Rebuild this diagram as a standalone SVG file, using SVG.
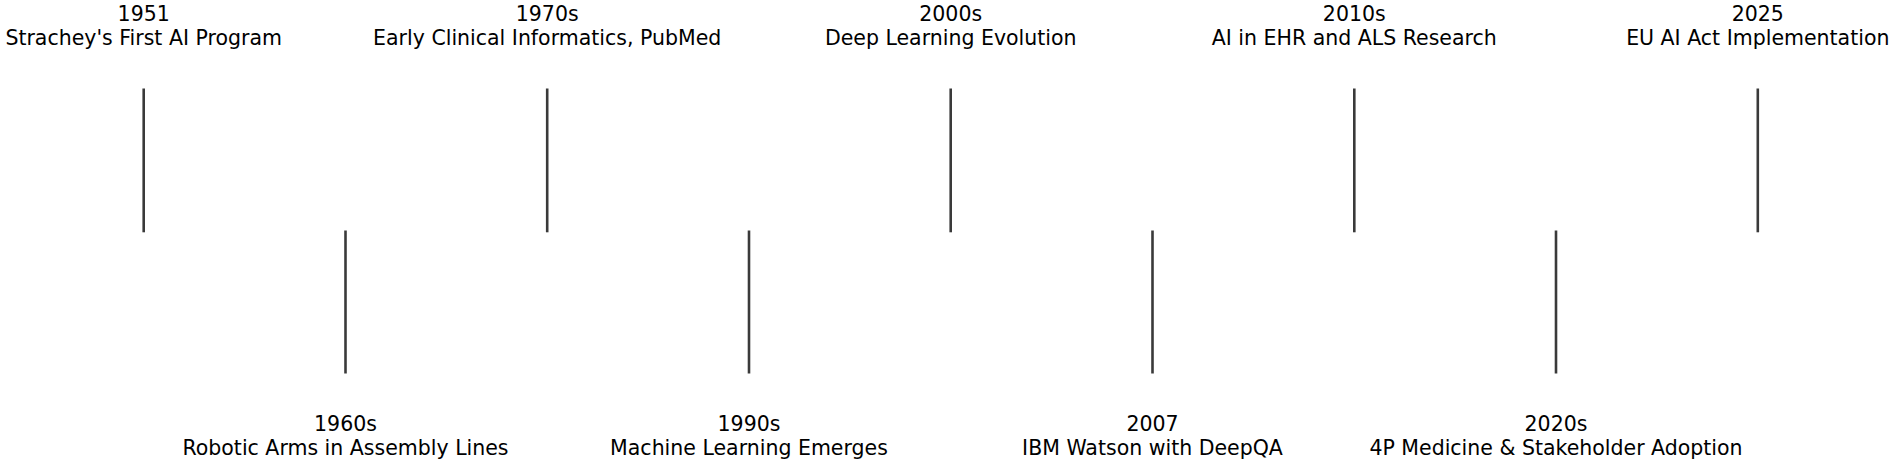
<svg xmlns="http://www.w3.org/2000/svg" width="1893" height="464" viewBox="0 0 1893 464">
<style>
.stem{stroke:#3a3a3a;stroke-width:2.6;fill:none}
text{font-family:"DejaVu Sans","Liberation Sans",sans-serif;font-size:20.5px;fill:#000;text-anchor:middle}
</style>
<rect width="1893" height="464" fill="#fff"/>
<g id="connectors">
<line class="stem" x1="143.7" y1="88.5" x2="143.7" y2="232.3"/>
<line class="stem" x1="345.5" y1="230.5" x2="345.5" y2="373.5"/>
<line class="stem" x1="547.2" y1="88.5" x2="547.2" y2="232.3"/>
<line class="stem" x1="749" y1="230.5" x2="749" y2="373.5"/>
<line class="stem" x1="950.7" y1="88.5" x2="950.7" y2="232.3"/>
<line class="stem" x1="1152.5" y1="230.5" x2="1152.5" y2="373.5"/>
<line class="stem" x1="1354.3" y1="88.5" x2="1354.3" y2="232.3"/>
<line class="stem" x1="1556" y1="230.5" x2="1556" y2="373.5"/>
<line class="stem" x1="1757.8" y1="88.5" x2="1757.8" y2="232.3"/>
</g>
<g id="e1951"><text x="143.7" y="21">1951</text><text x="143.7" y="44.5">Strachey's First AI Program</text></g>
<g id="e1960s"><text x="345.5" y="431">1960s</text><text x="345.5" y="454.5">Robotic Arms in Assembly Lines</text></g>
<g id="e1970s"><text x="547.2" y="21">1970s</text><text x="547.2" y="44.5">Early Clinical Informatics, PubMed</text></g>
<g id="e1990s"><text x="749" y="431">1990s</text><text x="749" y="454.5">Machine Learning Emerges</text></g>
<g id="e2000s"><text x="950.7" y="21">2000s</text><text x="950.7" y="44.5">Deep Learning Evolution</text></g>
<g id="e2007"><text x="1152.5" y="431">2007</text><text x="1152.5" y="454.5">IBM Watson with DeepQA</text></g>
<g id="e2010s"><text x="1354.3" y="21">2010s</text><text x="1354.3" y="44.5">AI in EHR and ALS Research</text></g>
<g id="e2020s"><text x="1556" y="431">2020s</text><text x="1556" y="454.5">4P Medicine &amp; Stakeholder Adoption</text></g>
<g id="e2025"><text x="1757.8" y="21">2025</text><text x="1757.8" y="44.5">EU AI Act Implementation</text></g>
</svg>
